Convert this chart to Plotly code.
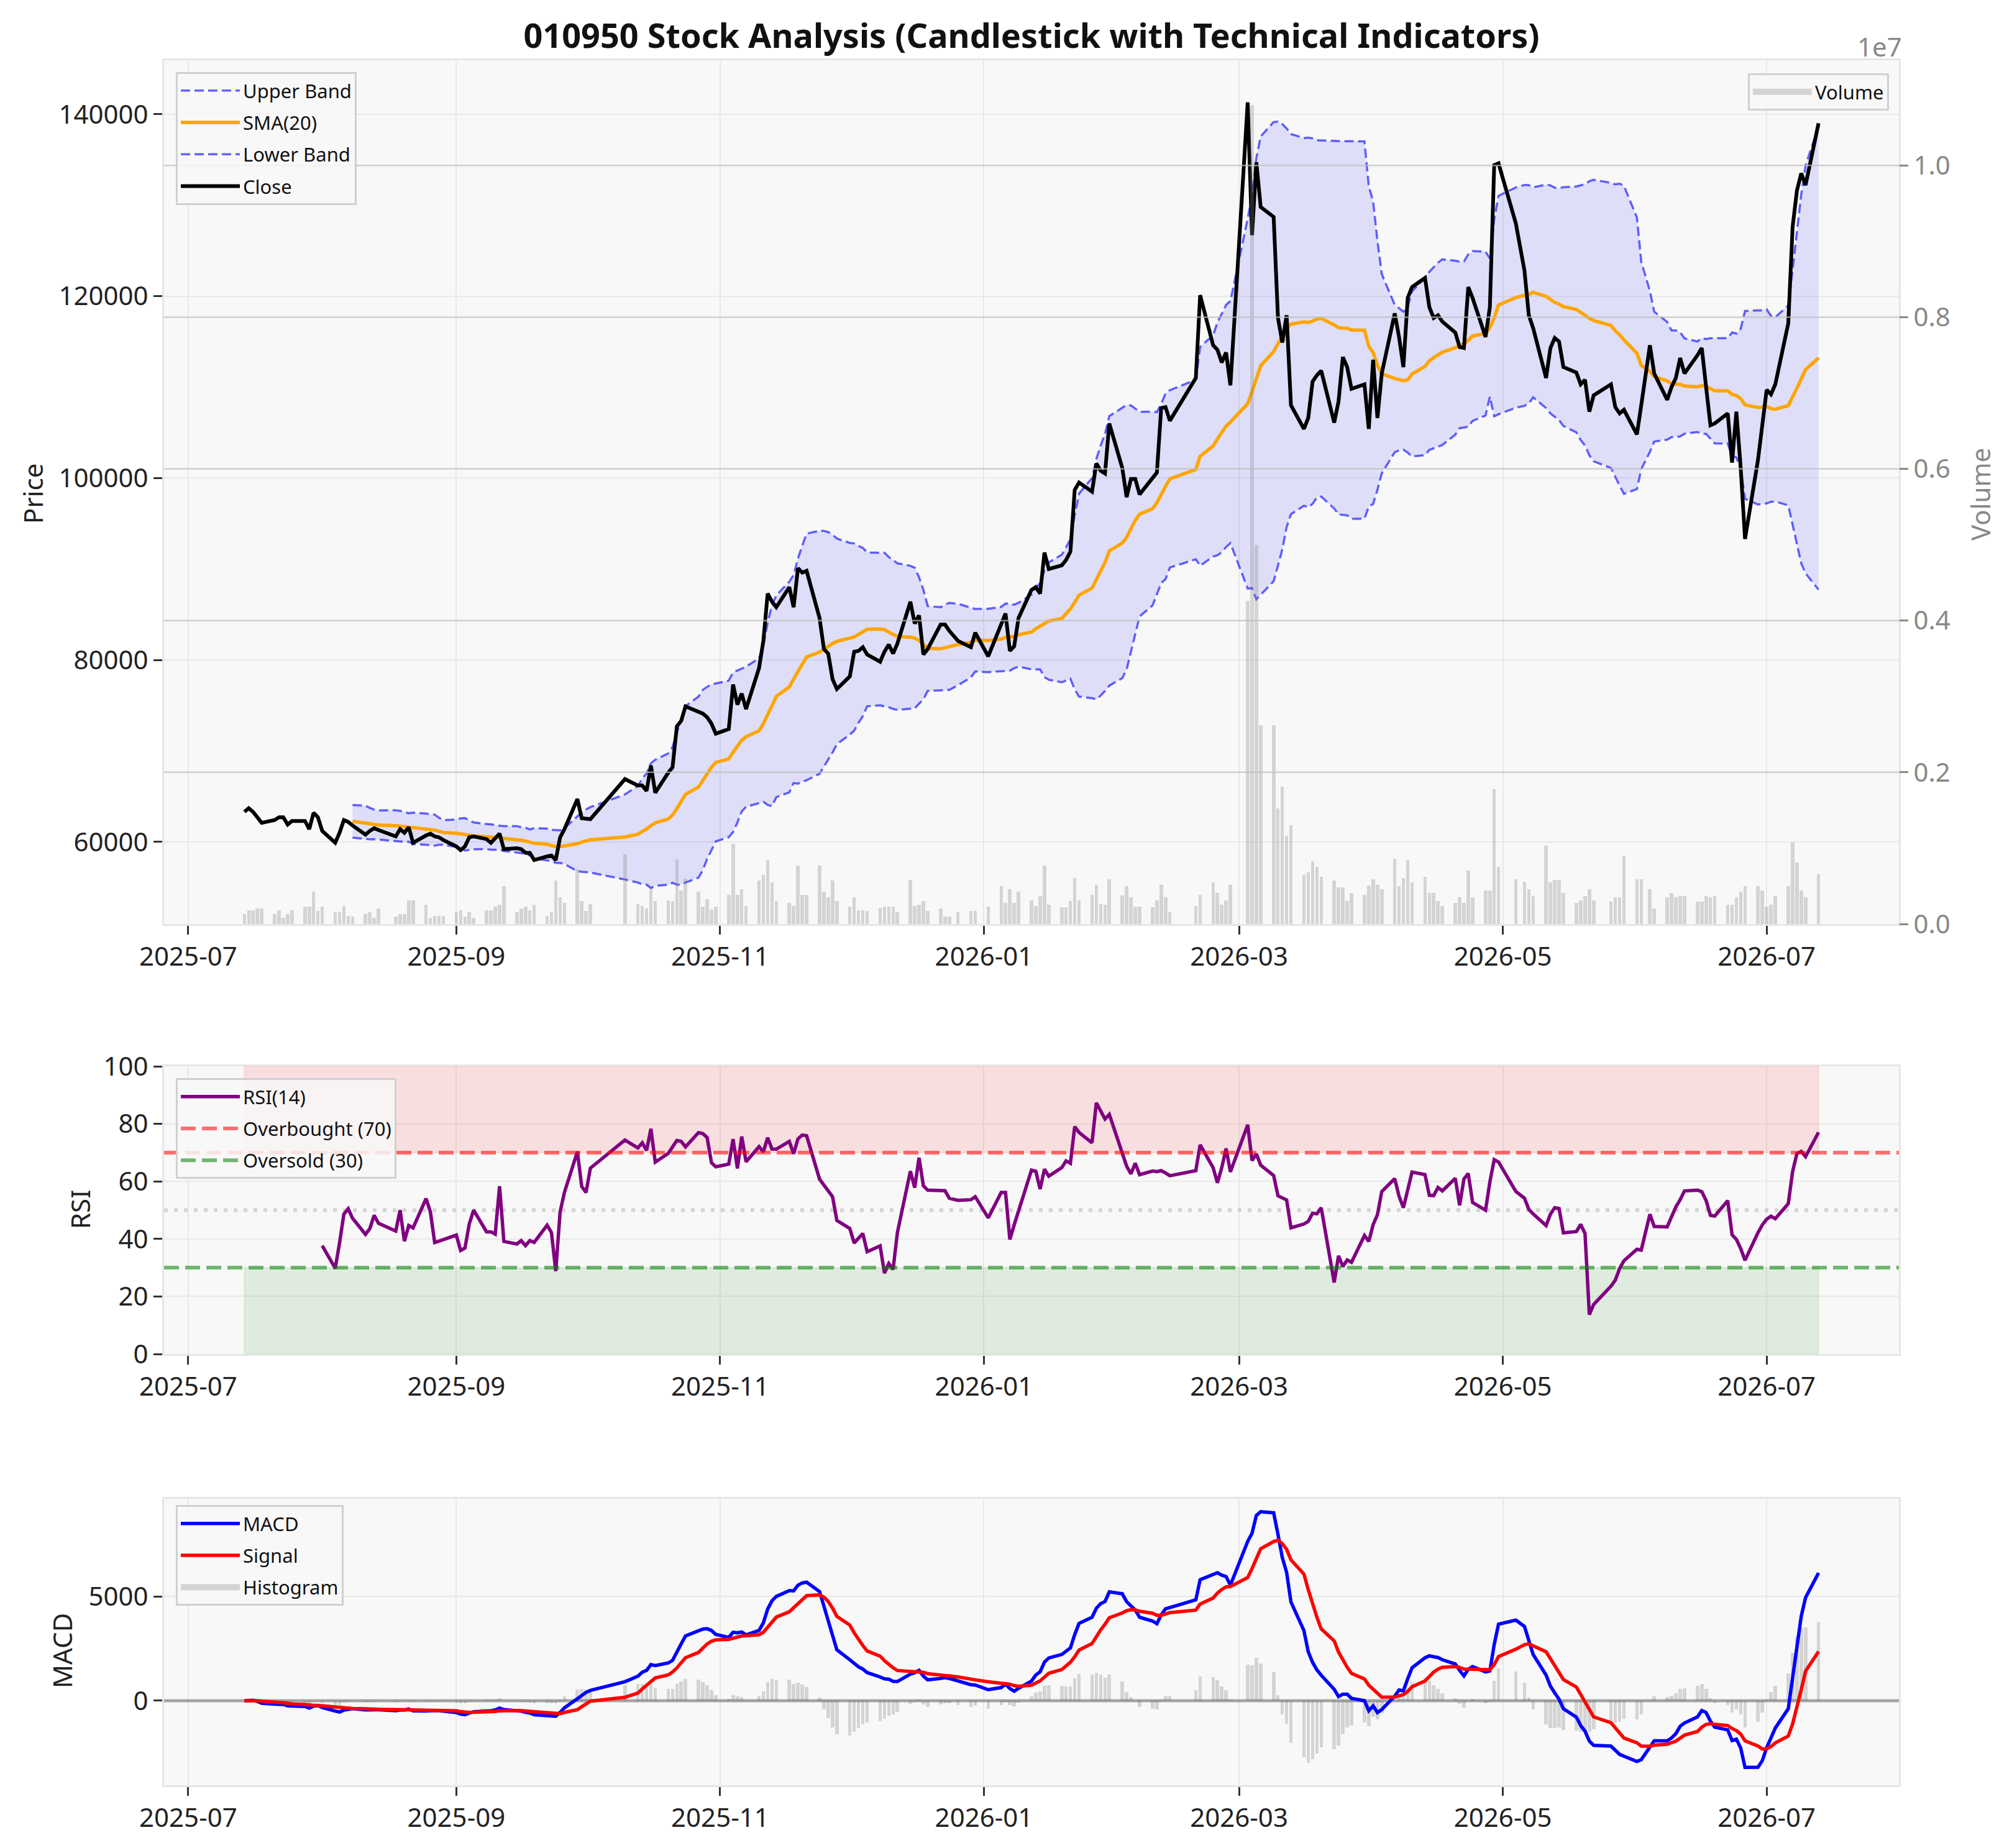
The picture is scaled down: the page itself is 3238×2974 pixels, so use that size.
import pandas as pd
import numpy as np
import plotly.graph_objects as go

# ---------------- data ----------------
start_date = "2025-07-14"
end_date = "2026-07-13"
krx_holidays = ["2025-08-15", "2025-10-03", "2025-10-06", "2025-10-07", "2025-10-08", "2025-10-09",
                "2025-12-25", "2025-12-31", "2026-01-01", "2026-02-16", "2026-02-17", "2026-02-18",
                "2026-03-02", "2026-05-01", "2026-05-05", "2026-05-25", "2026-06-03"]

close_jul = [63300, 63700, 63300, 62700, 62100, 62400, 62700, 62700, 61900, 62300, 62300, 61400, 63200, 62700]
close_aug = [61200, 59900, 61000, 62400, 62200, 61800, 60800, 61200, 61500, 61300, 60600, 61400, 61000, 61600,
             59900, 60700, 60900, 60600, 60500, 60200]
close_sep = [59500, 59100, 59500, 60500, 60600, 60300, 59900, 60400, 60900, 59200, 59300, 59200, 58800, 58800,
             58000, 58400, 58500, 58000, 60500, 61400, 64700, 62600]
close_oct = [62500, 62500, 66900, 66200, 66200, 65600, 68400, 65400, 67600, 68200, 72700, 73300, 74900, 74300,
             74100, 73700, 73000, 71900]
close_nov = [72400, 77300, 75100, 76300, 74600, 79100, 82100, 87300, 86400, 85800, 88000, 85800, 90100, 89600,
             89800, 84600, 81200, 80700, 77900, 76800]
close_dec = [78200, 80900, 81000, 81400, 80600, 79800, 80900, 81700, 80700, 81800, 86400, 84000, 84900, 80600,
             81200, 83900, 83900, 83200, 82100, 81400, 83000]
close_jan = [80400, 84000, 85100, 81000, 81500, 84600, 87700, 88000, 87300, 91800, 90000, 90400, 91000, 91900,
             98700, 99500, 98500, 101600, 100800, 100500, 106000]
close_feb = [101100, 97900, 99900, 99900, 98200, 99900, 100600, 107700, 107800, 106300, 111000, 120100, 114600,
             114100, 112700, 113800, 110200]
close_mar = [141300, 126700, 134700, 129800, 128700, 117600, 114900, 117900, 108000, 105400, 106600, 110600,
             111300, 111800, 106100, 108400, 113300, 112200, 109800, 110300, 105400]
close_apr = [113000, 106600, 111500, 118100, 115500, 112200, 119800, 121000, 122000, 118800, 117600, 117900,
             117200, 116000, 114400, 114300, 121000, 119800, 115500, 118800, 134400, 134600]
close_may = [128000, 122800, 117900, 116500, 111000, 114300, 115400, 115000, 112200, 111600, 110300, 110800,
             107300, 109100, 110300, 107800, 107100, 107500]
close_jun = [104800, 108000, 114600, 111500, 108600, 110000, 111000, 113200, 111500, 113500, 114300, 110000,
             105800, 106000, 107100, 101700, 107300, 101100, 93300, 102000, 105500]
close_jul26 = [109700, 109200, 110300, 117000, 127600, 131600, 133500, 132200, 139000]

vol_jul = [132e3, 183e3, 183e3, 205e3, 205e3, 132e3, 183e3, 80e3, 132e3, 183e3, 227e3, 227e3, 424e3, 168e3]
vol_aug = [227e3, 154e3, 154e3, 241e3, 110e3, 95e3, 132e3, 154e3, 80e3, 205e3, 95e3, 132e3, 132e3, 315e3,
           315e3, 256e3, 80e3, 110e3, 110e3, 110e3]
vol_sep = [154e3, 183e3, 95e3, 154e3, 80e3, 183e3, 183e3, 227e3, 256e3, 497e3, 154e3, 205e3, 227e3, 183e3,
           256e3, 110e3, 154e3, 571e3, 351e3, 278e3, 717e3, 300e3]
vol_oct = [168e3, 263e3, 914e3, 263e3, 241e3, 205e3, 461e3, 300e3, 315e3, 300e3, 849e3, 446e3, 600e3, 424e3,
           227e3, 329e3, 190e3, 227e3]
vol_nov = [388e3, 1060e3, 388e3, 461e3, 241e3, 571e3, 644e3, 841e3, 549e3, 300e3, 278e3, 241e3, 768e3, 388e3,
           388e3, 768e3, 424e3, 351e3, 571e3, 300e3]
vol_dec = [227e3, 351e3, 183e3, 183e3, 168e3, 212e3, 227e3, 227e3, 227e3, 154e3, 585e3, 241e3, 256e3, 300e3,
           168e3, 205e3, 95e3, 95e3, 154e3, 168e3, 168e3]
vol_jan = [227e3, 497e3, 278e3, 461e3, 278e3, 424e3, 315e3, 241e3, 366e3, 768e3, 256e3, 219e3, 219e3, 300e3,
           607e3, 315e3, 388e3, 519e3, 263e3, 256e3, 593e3]
vol_feb = [373e3, 497e3, 351e3, 227e3, 227e3, 219e3, 315e3, 519e3, 351e3, 154e3, 241e3, 388e3, 549e3, 410e3,
           256e3, 315e3, 519e3]
vol_mar = [4260e3, 10800e3, 5000e3, 2620e3, 2620e3, 1520e3, 1810e3, 1160e3, 1300e3, 644e3, 680e3, 827e3,
           753e3, 622e3, 571e3, 483e3, 483e3, 300e3, 410e3, 388e3, 512e3]
vol_apr = [593e3, 519e3, 461e3, 863e3, 497e3, 607e3, 841e3, 549e3, 622e3, 410e3, 410e3, 300e3, 241e3, 278e3,
           351e3, 278e3, 702e3, 351e3, 446e3, 446e3, 1780e3, 753e3]
vol_may = [593e3, 556e3, 461e3, 366e3, 1030e3, 549e3, 585e3, 585e3, 410e3, 278e3, 315e3, 366e3, 461e3, 315e3,
           293e3, 351e3, 351e3, 900e3]
vol_jun = [593e3, 593e3, 461e3, 205e3, 351e3, 410e3, 351e3, 366e3, 366e3, 293e3, 293e3, 366e3, 351e3, 366e3,
           256e3, 256e3, 351e3, 424e3, 497e3, 497e3, 439e3]
vol_jul26 = [227e3, 256e3, 366e3, 497e3, 1070e3, 812e3, 446e3, 351e3, 658e3]

x_tick_vals = ["2025-07-01", "2025-09-01", "2025-11-01", "2026-01-01", "2026-03-01", "2026-05-01", "2026-07-01"]
x_tick_text = ["2025-07", "2025-09", "2025-11", "2026-01", "2026-03", "2026-05", "2026-07"]
price_ticks = [60000, 80000, 100000, 120000, 140000]
vol_ticks = [0, 2e6, 4e6, 6e6, 8e6, 1e7]
vol_tick_text = ["0.0", "0.2", "0.4", "0.6", "0.8", "1.0"]
rsi_ticks = [0, 20, 40, 60, 80, 100]
macd_ticks = [0, 5000]

# ---------------- assemble ----------------
dates = pd.bdate_range(start_date, end_date)
dates = dates[~dates.isin(pd.to_datetime(krx_holidays))]
closes = (close_jul + close_aug + close_sep + close_oct + close_nov + close_dec + close_jan + close_feb +
          close_mar + close_apr + close_may + close_jun + close_jul26)
volumes = (vol_jul + vol_aug + vol_sep + vol_oct + vol_nov + vol_dec + vol_jan + vol_feb +
           vol_mar + vol_apr + vol_may + vol_jun + vol_jul26)
assert len(dates) == len(closes) == len(volumes), (len(dates), len(closes), len(volumes))

df = pd.DataFrame({"close": closes, "volume": volumes}, index=dates)
df["sma"] = df["close"].rolling(20).mean()
std = df["close"].rolling(20).std()
df["upper"] = df["sma"] + 2 * std
df["lower"] = df["sma"] - 2 * std
delta = df["close"].diff()
gain = delta.clip(lower=0).rolling(14).mean()
loss = (-delta.clip(upper=0)).rolling(14).mean()
df["rsi"] = 100 - 100 / (1 + gain / loss)
ema12 = df["close"].ewm(span=12, adjust=False).mean()
ema26 = df["close"].ewm(span=26, adjust=False).mean()
df["macd"] = ema12 - ema26
df["signal"] = df["macd"].ewm(span=9, adjust=False).mean()
df["hist"] = df["macd"] - df["signal"]

xd = [d.strftime("%Y-%m-%d") for d in df.index]


def nn(s):
    return [None if pd.isna(v) else float(v) for v in s]


valid = df.dropna(subset=["upper"])
vx = [d.strftime("%Y-%m-%d") for d in valid.index]

X_RANGE = ["2025-06-25 10:00", "2026-07-31 14:00"]
BAR_W = 0.8 * 86400000
FONT = "Noto Sans"
PATCH = "rgba(128,128,128,0.3)"

fig = go.Figure()

# ---- price panel ----
fig.add_trace(go.Scatter(x=vx + vx[::-1], y=list(valid["upper"]) + list(valid["lower"])[::-1],
                         fill="toself", fillcolor="rgba(0,0,255,0.1)", line=dict(width=0),
                         mode="lines", showlegend=False, hoverinfo="skip", xaxis="x", yaxis="y"))
fig.add_trace(go.Scatter(x=xd, y=nn(df["upper"]), name="Upper Band", mode="lines", legendgroup="g1",
                         line=dict(color="rgba(0,0,255,0.6)", width=3.5, dash="15px,7px"),
                         xaxis="x", yaxis="y", legend="legend"))
fig.add_trace(go.Scatter(x=xd, y=nn(df["sma"]), name="SMA(20)", mode="lines", legendgroup="g2",
                         line=dict(color="orange", width=5.5), xaxis="x", yaxis="y", legend="legend"))
fig.add_trace(go.Scatter(x=xd, y=nn(df["lower"]), name="Lower Band", mode="lines", legendgroup="g3",
                         line=dict(color="rgba(0,0,255,0.6)", width=3.5, dash="15px,7px"),
                         xaxis="x", yaxis="y", legend="legend"))
fig.add_trace(go.Scatter(x=xd, y=closes, name="Close", mode="lines", legendgroup="g4",
                         line=dict(color="black", width=6), xaxis="x", yaxis="y", legend="legend"))
fig.add_trace(go.Bar(x=xd, y=volumes, name="Volume", width=BAR_W, showlegend=False, legendgroup="v",
                     marker=dict(color=PATCH, line=dict(width=0)),
                     xaxis="x", yaxis="y2"))
# legend patch for volume (wide grey swatch like matplotlib's bar handle)
fig.add_trace(go.Scatter(x=[None], y=[None], name="Volume", mode="lines", legendgroup="v",
                         line=dict(color=PATCH, width=24), xaxis="x", yaxis="y2", legend="legend2"))

# ---- RSI panel ----
d0, d1 = xd[0], xd[-1]
fig.add_trace(go.Scatter(x=[d0, d1, d1, d0, d0], y=[70, 70, 100, 100, 70], fill="toself",
                         fillcolor="rgba(255,0,0,0.1)", line=dict(width=1.5, color="rgba(255,0,0,0.12)"),
                         mode="lines", showlegend=False, hoverinfo="skip", xaxis="x2", yaxis="y3"))
fig.add_trace(go.Scatter(x=[d0, d1, d1, d0, d0], y=[0, 0, 30, 30, 0], fill="toself",
                         fillcolor="rgba(0,128,0,0.1)", line=dict(width=1.5, color="rgba(0,128,0,0.12)"),
                         mode="lines", showlegend=False, hoverinfo="skip", xaxis="x2", yaxis="y3"))
fig.add_trace(go.Scatter(x=X_RANGE, y=[50, 50], mode="lines", showlegend=False,
                         line=dict(color="rgba(128,128,128,0.3)", width=6, dash="6px,10px"),
                         xaxis="x2", yaxis="y3"))
fig.add_trace(go.Scatter(x=xd, y=nn(df["rsi"]), name="RSI(14)", mode="lines", legendgroup="r1",
                         line=dict(color="purple", width=5.5), xaxis="x2", yaxis="y3", legend="legend3"))
fig.add_trace(go.Scatter(x=X_RANGE, y=[70, 70], name="Overbought (70)", mode="lines", legendgroup="r2",
                         line=dict(color="rgba(255,0,0,0.55)", width=6, dash="24px,10px"),
                         xaxis="x2", yaxis="y3", legend="legend3"))
fig.add_trace(go.Scatter(x=X_RANGE, y=[30, 30], name="Oversold (30)", mode="lines", legendgroup="r3",
                         line=dict(color="rgba(0,128,0,0.55)", width=6, dash="24px,10px"),
                         xaxis="x2", yaxis="y3", legend="legend3"))

# ---- MACD panel ----
fig.add_trace(go.Bar(x=xd, y=nn(df["hist"]), name="Histogram", width=BAR_W, showlegend=False, legendgroup="m3",
                     marker=dict(color=PATCH, line=dict(width=0)),
                     xaxis="x3", yaxis="y4"))
fig.add_trace(go.Scatter(x=X_RANGE, y=[0, 0], mode="lines", showlegend=False,
                         line=dict(color="rgba(90,90,90,0.5)", width=5), xaxis="x3", yaxis="y4"))
fig.add_trace(go.Scatter(x=xd, y=nn(df["macd"]), name="MACD", mode="lines", legendgroup="m1",
                         line=dict(color="blue", width=5.5), xaxis="x3", yaxis="y4", legend="legend4"))
fig.add_trace(go.Scatter(x=xd, y=nn(df["signal"]), name="Signal", mode="lines", legendgroup="m2",
                         line=dict(color="red", width=5.5), xaxis="x3", yaxis="y4", legend="legend4"))
fig.add_trace(go.Scatter(x=[None], y=[None], name="Histogram", mode="lines", legendgroup="m3",
                         line=dict(color=PATCH, width=24), xaxis="x3", yaxis="y4", legend="legend4"))

# ---------------- layout ----------------
W, H = 3238, 2974
XL, XR = 264 / W, 3056 / W


def ydom(top_px, bot_px):
    return [1 - bot_px / H, 1 - top_px / H]


GRID = "#e8e8e8"
SPINE = "#e6e6e6"
tickfont = dict(family=FONT, size=42, color="#222222")

xcommon = dict(type="date", range=X_RANGE, tickvals=x_tick_vals, ticktext=x_tick_text,
               tickfont=tickfont, ticks="outside", ticklen=14, tickwidth=2.5, tickcolor="#333333",
               showgrid=True, gridcolor=GRID, gridwidth=2, showline=True, linecolor=SPINE,
               linewidth=3, mirror=True, zeroline=False, domain=[XL, XR], automargin=False)
ycommon = dict(tickfont=tickfont, ticks="outside", ticklen=14, tickwidth=2.5, tickcolor="#333333",
               showgrid=True, gridcolor=GRID, gridwidth=2, showline=True, linecolor=SPINE,
               linewidth=3, mirror=True, zeroline=False, automargin=False)

legend_common = dict(bgcolor="rgba(248,248,248,0.85)", bordercolor="#d0d0d0", borderwidth=3,
                     font=dict(family=FONT, size=31, color="#111111"), itemwidth=95,
                     xanchor="left", yanchor="top", tracegroupgap=8, traceorder="grouped")

fig.update_layout(
    width=W, height=H, autosize=False,
    margin=dict(l=0, r=0, t=0, b=0, pad=0, autoexpand=False),
    paper_bgcolor="white", plot_bgcolor="#f8f8f8",
    font=dict(family=FONT, color="#222222"),
    title=dict(text="<b>010950 Stock Analysis (Candlestick with Technical Indicators)</b>",
               x=1660 / W, xanchor="center", y=1 - 58 / H, yanchor="middle", automargin=False,
               font=dict(family=FONT, size=54, color="#111111")),
    bargap=0,
    xaxis=dict(xcommon, anchor="y"),
    yaxis=dict(ycommon, domain=ydom(97, 1487), range=[50970, 145930], tickvals=price_ticks,
               ticktext=[str(v) for v in price_ticks]),
    yaxis2=dict(overlaying="y", side="right", anchor="x", range=[0, 1.1387e7], tickvals=vol_ticks,
                ticktext=vol_tick_text, tickfont=dict(family=FONT, size=42, color="#888888"),
                ticks="outside", ticklen=14, tickwidth=2.5, tickcolor="#888888", automargin=False,
                showgrid=False, zeroline=False, showline=False),
    xaxis2=dict(xcommon, anchor="y3"),
    yaxis3=dict(ycommon, domain=ydom(1716, 2179), range=[0, 100], tickvals=rsi_ticks,
                ticktext=[str(v) for v in rsi_ticks], anchor="x2"),
    xaxis3=dict(xcommon, anchor="y4"),
    yaxis4=dict(ycommon, domain=ydom(2412, 2873), range=[-4048, 9673], tickvals=macd_ticks,
                ticktext=[str(v) for v in macd_ticks], anchor="x3"),
    legend=dict(legend_common, x=283 / W, y=1 - 116 / H),
    legend2=dict(legend_common, x=3040 / W, y=1 - 118 / H, xanchor="right"),
    legend3=dict(legend_common, x=283 / W, y=1 - 1735 / H),
    legend4=dict(legend_common, x=283 / W, y=1 - 2422 / H),
    showlegend=True,
)

# volume-axis grid lines drawn above the price lines (twin axis drawn on top)
for v in vol_ticks[1:]:
    fig.add_shape(type="line", xref="x domain", yref="y2", x0=0, x1=1, y0=v, y1=v,
                  line=dict(color="rgba(190,190,190,0.7)", width=2.5), layer="above")

ann_font = dict(family=FONT, size=42, color="#222222")
ann_common = dict(xref="paper", yref="paper", showarrow=False, xanchor="center", yanchor="middle")
fig.add_annotation(text="Price", x=52 / W, y=1 - 795 / H, textangle=-90, font=ann_font, **ann_common)
fig.add_annotation(text="Volume", x=3186 / W, y=1 - 795 / H, textangle=-90,
                   font=dict(ann_font, color="#888888"), **ann_common)
fig.add_annotation(text="1e7", x=3025 / W, y=1 - 74 / H, font=dict(ann_font, color="#888888"), **ann_common)
fig.add_annotation(text="RSI", x=128 / W, y=1 - 1947 / H, textangle=-90, font=ann_font, **ann_common)
fig.add_annotation(text="MACD", x=99 / W, y=1 - 2657 / H, textangle=-90, font=ann_font, **ann_common)

fig.write_html("out.html")
